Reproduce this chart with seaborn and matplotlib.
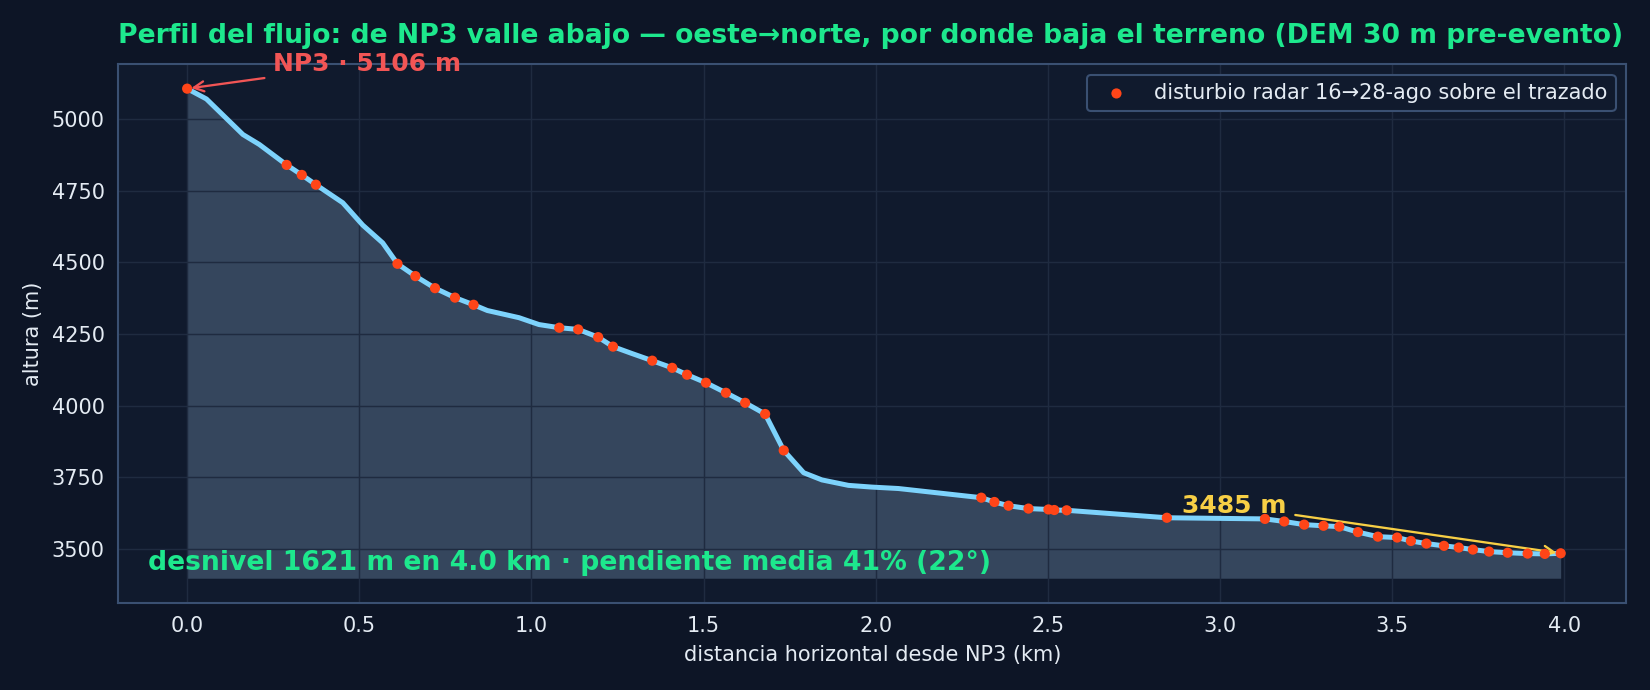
import numpy as np
import pandas as pd
import matplotlib
matplotlib.use("Agg")
import matplotlib.pyplot as plt
import seaborn as sns

# perfil a lo largo del trazado (km, m)
dist_km = [0.000, 0.056, 0.162, 0.210, 0.289, 0.333, 0.374, 0.452, 0.510, 0.568,
           0.611, 0.663, 0.720, 0.778, 0.832, 0.872, 0.964, 1.022, 1.081, 1.136,
           1.194, 1.237, 1.292, 1.351, 1.409, 1.452, 1.507, 1.565, 1.621, 1.679,
           1.733, 1.791, 1.844, 1.921, 1.989, 2.066, 2.307, 2.345, 2.386, 2.444,
           2.502, 2.519, 2.555, 2.846, 3.131, 3.187, 3.245, 3.301, 3.347, 3.401,
           3.459, 3.515, 3.555, 3.600, 3.651, 3.694, 3.735, 3.782, 3.836, 3.894,
           3.944, 3.990]
alt_m = [5106, 5070, 4946, 4911, 4840, 4805, 4771, 4708, 4630, 4568,
         4495, 4452, 4410, 4377, 4352, 4332, 4307, 4283, 4272, 4266,
         4239, 4206, 4182, 4157, 4132, 4108, 4080, 4045, 4010, 3971,
         3844, 3766, 3741, 3722, 3716, 3711, 3679, 3664, 3651, 3641,
         3638, 3636, 3635, 3609, 3605, 3596, 3585, 3581, 3578, 3559,
         3543, 3540, 3528, 3519, 3511, 3505, 3498, 3491, 3487, 3484,
         3483, 3485]

# puntos con disturbio radar sobre el trazado
dist_km_dist = [0.000, 0.289, 0.333, 0.374, 0.611, 0.663, 0.720, 0.778, 0.832,
                1.081, 1.136, 1.194, 1.237, 1.351, 1.409, 1.452, 1.507, 1.565,
                1.621, 1.679, 1.733, 2.307, 2.345, 2.386, 2.444, 2.502, 2.519,
                2.555, 2.846, 3.131, 3.187, 3.245, 3.301, 3.347, 3.401, 3.459,
                3.515, 3.555, 3.600, 3.651, 3.694, 3.735, 3.782, 3.836, 3.894,
                3.944, 3.990]
alt_m_dist = [5106, 4840, 4805, 4771, 4495, 4452, 4410, 4377, 4352,
              4272, 4266, 4239, 4206, 4157, 4132, 4108, 4080, 4045,
              4010, 3971, 3844, 3679, 3664, 3651, 3641, 3638, 3636,
              3635, 3609, 3605, 3596, 3585, 3581, 3578, 3559, 3543,
              3540, 3528, 3519, 3511, 3505, 3498, 3491, 3487, 3484,
              3483, 3485]

BG = "#0d1526"
AX_BG = "#101a2d"
EDGE = "#3a5072"
TXT = "#e4ebf3"
GREEN = "#1de88d"

sns.set_theme(style="darkgrid")
plt.rcParams.update({
    "figure.facecolor": BG,
    "axes.facecolor": AX_BG,
    "axes.edgecolor": EDGE,
    "axes.labelcolor": TXT,
    "axes.axisbelow": "line",
    "xtick.color": TXT,
    "ytick.color": TXT,
    "grid.color": "#1f2b40",
    "grid.linewidth": 0.7,
    "text.color": TXT,
})
plt.rcParams["font.family"] = ["DejaVu Sans"]

perfil = pd.DataFrame({"dist": dist_km, "alt": alt_m})
dist = pd.DataFrame({"dist": dist_km_dist, "alt": alt_m_dist})

fig, ax = plt.subplots(figsize=(11, 4.6), dpi=150)
fig.subplots_adjust(left=0.0717, right=0.9855, top=0.907, bottom=0.1265)

base = perfil["alt"].min() - 85
ax.fill_between(perfil["dist"], perfil["alt"], base, color="#37485f", alpha=0.97, lw=0,
                zorder=1)
sns.lineplot(data=perfil, x="dist", y="alt", ax=ax, color="#7dd3fc", lw=2.4, sort=False,
             zorder=3)
sns.scatterplot(data=dist, x="dist", y="alt", ax=ax, color="#ff4518", s=24,
                edgecolor="none", zorder=5,
                label="disturbio radar 16→28-ago sobre el trazado")

for s in ax.spines.values():
    s.set_visible(True)
    s.set_color(EDGE)
    s.set_linewidth(1.0)
ax.tick_params(axis="both", labelsize=10, length=3, width=0.8, color=TXT)
ax.set_xlim(-0.2, 4.18)

ax.set_xlabel("distancia horizontal desde NP3 (km)", fontsize=10)
ax.set_ylabel("altura (m)", fontsize=10)
ax.set_title("Perfil del flujo: de NP3 valle abajo — oeste→norte, por donde baja el terreno "
             "(DEM 30 m pre-evento)", fontsize=12.8, fontweight="bold", color=GREEN,
             pad=10, loc="left")

top_x, top_z = dist_km[0], alt_m[0]
end_x, end_z = dist_km[-1], alt_m[-1]
ax.annotate(f"NP3 · {top_z} m", xy=(top_x, top_z), xytext=(top_x + 0.25, top_z + 62),
            color="#f25555", fontsize=12, fontweight="bold",
            arrowprops=dict(arrowstyle="->", color="#f25555", lw=1.1))
ax.annotate(f"{end_z} m", xy=(end_x, end_z), xytext=(end_x - 1.1, end_z + 140),
            color="#f7cf45", fontsize=12, fontweight="bold",
            arrowprops=dict(arrowstyle="->", color="#f7cf45", lw=1.1))

desn = top_z - end_z
pend = desn / (end_x * 1000)
ax.text(0.02, 0.05, f"desnivel {desn} m en {end_x:.1f} km · pendiente media "
        f"{pend*100:.0f}% ({np.degrees(np.arctan(pend)):.0f}°)",
        transform=ax.transAxes, color=GREEN, fontsize=12.8, fontweight="bold", va="bottom")

leg = ax.legend(loc="upper right", fontsize=10, facecolor=AX_BG, edgecolor=EDGE,
                framealpha=1.0)
for t in leg.get_texts():
    t.set_color(TXT)

fig.savefig("out.png", dpi=150, facecolor=BG)
